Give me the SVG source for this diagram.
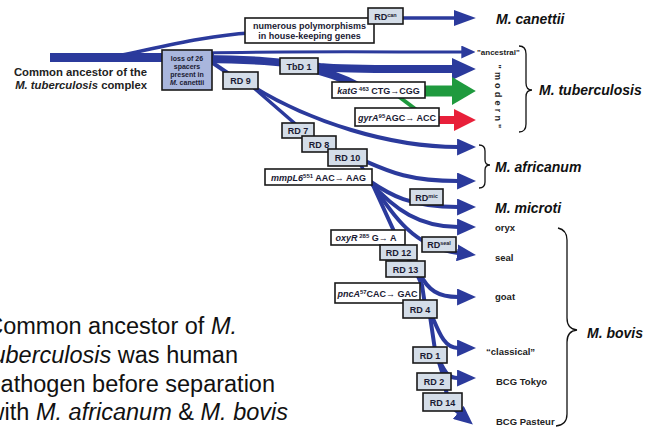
<svg xmlns="http://www.w3.org/2000/svg" width="655" height="427" viewBox="0 0 655 427">
<style>
.c{fill:none;stroke:#2b3a9c;stroke-linejoin:round}
.box{fill:#d4dde8;stroke:#1a1a1a;stroke-width:1.6}
.lbox{fill:#a9b6dd;stroke:#1a1a1a;stroke-width:1.6}
.wbox{fill:#fff;stroke:#1a1a1a;stroke-width:1.6}
.bt{font-family:"Liberation Sans",Arial,"DejaVu Sans",sans-serif;font-weight:bold;font-size:9px;fill:#1a1a33;text-anchor:middle}
.sp{font-family:"Liberation Sans",Arial,sans-serif;font-weight:bold;font-style:italic;font-size:14px;fill:#111}
.lb{font-family:"Liberation Sans",Arial,sans-serif;font-weight:bold;font-size:9.5px;fill:#222}
.big{font-family:"Liberation Sans",Arial,sans-serif;font-size:23.5px;fill:#111;text-anchor:end}
.brace{fill:none;stroke:#111;stroke-width:1.3}
</style>
<defs>
<marker id="ab" viewBox="0 0 10 10" refX="0.5" refY="5" markerUnits="userSpaceOnUse" markerWidth="19" markerHeight="17" orient="auto" preserveAspectRatio="none"><path d="M0,0 L10,5 L0,10 Z" fill="#2b3a9c"/></marker>
<marker id="abig" viewBox="0 0 10 10" refX="0.5" refY="5" markerUnits="userSpaceOnUse" markerWidth="24" markerHeight="22" orient="auto" preserveAspectRatio="none"><path d="M0,0 L10,5 L0,10 Z" fill="#2b3a9c"/></marker>
<marker id="acan" viewBox="0 0 10 10" refX="0.5" refY="5" markerUnits="userSpaceOnUse" markerWidth="22" markerHeight="16" orient="auto" preserveAspectRatio="none"><path d="M0,0 L10,5 L0,10 Z" fill="#2b3a9c"/></marker>
<marker id="asm" viewBox="0 0 10 10" refX="0.5" refY="5" markerUnits="userSpaceOnUse" markerWidth="14" markerHeight="13" orient="auto" preserveAspectRatio="none"><path d="M0,0 L10,5 L0,10 Z" fill="#2b3a9c"/></marker>
<marker id="agr" viewBox="0 0 10 10" refX="0.5" refY="5" markerUnits="userSpaceOnUse" markerWidth="24" markerHeight="28" orient="auto" preserveAspectRatio="none"><path d="M0,0 L10,5 L0,10 Z" fill="#1f9a3e"/></marker>
<marker id="ared" viewBox="0 0 10 10" refX="0.5" refY="5" markerUnits="userSpaceOnUse" markerWidth="22" markerHeight="22" orient="auto" preserveAspectRatio="none"><path d="M0,0 L10,5 L0,10 Z" fill="#e8203a"/></marker>
</defs>
<rect width="655" height="427" fill="#fff"/>

<g id="connectors">
<path class="c" d="M50,57.5 H214" stroke-width="9"/>
<path class="c" d="M122,55 C170,45 212,35 250,33 L380,18 H455" stroke-width="3.5" marker-end="url(#acan)"/>
<path class="c" d="M205,53 C280,51 380,52 462,52" stroke-width="3" marker-end="url(#asm)"/>
<path class="c" d="M205,59 C250,59 280,62 320,67 C350,70 400,69 453,69" stroke-width="8" marker-end="url(#abig)"/>
<path class="c" d="M298,66 C320,70 340,76 362,88" stroke-width="8"/>
<path d="M424,91 H453" fill="none" stroke="#1f9a3e" stroke-width="11" marker-end="url(#agr)"/>
<path d="M398,96 L418,111" fill="none" stroke="#1f9a3e" stroke-width="4"/>
<path d="M438,120 H455" fill="none" stroke="#e8203a" stroke-width="8" marker-end="url(#ared)"/>
<path class="c" d="M207,59 L232,76" stroke-width="4"/>
<path class="c" d="M252,86 C310,122 390,147 458,147" stroke-width="4" marker-end="url(#ab)"/>
<path class="c" d="M254,88 L300,128 L330,148 L358,160 L368,178" stroke-width="3.5"/>
<path class="c" d="M365,161 C390,172 410,181 458,181" stroke-width="4" marker-end="url(#ab)"/>
<path class="c" d="M368,180 C390,195 410,207 458,207" stroke-width="4" marker-end="url(#ab)"/>
<path class="c" d="M370,182 C395,210 420,227 458,227" stroke-width="4" marker-end="url(#ab)"/>
<path class="c" d="M372,183 C392,215 415,248 458,253" stroke-width="4" marker-end="url(#ab)"/>
<path class="c" d="M372,183 L398,240 L415,270 L422,285 L425,305" stroke-width="4"/>
<path class="c" d="M420,274 C428,290 438,297 458,297" stroke-width="4" marker-end="url(#ab)"/>
<path class="c" d="M432,316 C440,335 445,348 458,348" stroke-width="4" marker-end="url(#ab)"/>
<path class="c" d="M430,316 L435,350 L442,372 L447,395 L452,408" stroke-width="4"/>
<path class="c" d="M440,362 C445,372 448,378 458,378" stroke-width="4" marker-end="url(#ab)"/>
<path class="c" d="M447,403 L459,413" stroke-width="4" marker-end="url(#ab)"/>
</g>

<g id="ancestor">
<text class="bt" style="font-size:11.3px;text-anchor:end;fill:#222" x="147" y="75.5">Common ancestor of the</text>
<text class="bt" style="font-size:11.3px;text-anchor:end;fill:#222" x="147" y="88.5"><tspan font-style="italic">M. tuberculosis</tspan> complex</text>
</g>

<g id="polymorphisms">
<rect class="wbox" x="245" y="18" width="129" height="25"/>
<text class="bt" x="309.5" y="28.5">numerous polymorphisms</text>
<text class="bt" x="309.5" y="39">in house-keeping genes</text>
</g>
<g id="rdcan">
<rect class="box" x="368" y="8" width="35" height="16"/>
<text class="bt" x="385.5" y="19.5">RD<tspan font-size="5.5" dy="-3">can</tspan></text>
</g>
<g id="loss">
<rect class="lbox" x="162" y="50" width="50" height="40"/>
<text class="bt" style="font-size:7px" x="187" y="60.5">loss of 26</text>
<text class="bt" style="font-size:7px" x="187" y="68.5">spacers</text>
<text class="bt" style="font-size:7px" x="187" y="76.5">present in</text>
<text class="bt" style="font-size:7px" x="187" y="84.5"><tspan font-style="italic">M.</tspan> canettii</text>
</g>
<g id="tbd1">
<rect class="box" x="280" y="58" width="38" height="16"/>
<text class="bt" x="299" y="69.5">TbD 1</text>
</g>
<g id="rd9">
<rect class="box" x="223" y="72" width="35" height="17"/>
<text class="bt" x="240.5" y="84">RD 9</text>
</g>
<g id="katg">
<rect class="wbox" x="332" y="82" width="93" height="16"/>
<text class="bt" x="378.5" y="93.5"><tspan font-style="italic">katG</tspan><tspan font-size="6" dy="-3"> 463</tspan><tspan dy="3"> CTG→CGG</tspan></text>
</g>
<g id="gyra">
<rect class="wbox" x="355" y="108" width="84" height="18"/>
<text class="bt" x="397" y="120.5"><tspan font-style="italic">gyrA</tspan><tspan font-size="6" dy="-3">95</tspan><tspan dy="3">AGC→ ACC</tspan></text>
</g>
<g id="rd7">
<rect class="box" x="282" y="123" width="32" height="15"/>
<text class="bt" x="298" y="134">RD 7</text>
</g>
<g id="rd8">
<rect class="box" x="302" y="136" width="34" height="16"/>
<text class="bt" x="319" y="147.5">RD 8</text>
</g>
<g id="rd10">
<rect class="box" x="328" y="149" width="39" height="17"/>
<text class="bt" x="347.5" y="161">RD 10</text>
</g>
<g id="mmpl6">
<rect class="wbox" x="265" y="169" width="107" height="16"/>
<text class="bt" x="318.5" y="180.5"><tspan font-style="italic">mmpL6</tspan><tspan font-size="6" dy="-3">551</tspan><tspan dy="3"> AAC→ AAG</tspan></text>
</g>
<g id="rdmic">
<rect class="box" x="410" y="189" width="33" height="16"/>
<text class="bt" x="426.5" y="200.5">RD<tspan font-size="5.5" dy="-3">mic</tspan></text>
</g>
<g id="oxyr">
<rect class="wbox" x="331" y="230" width="74" height="15"/>
<text class="bt" x="366" y="241"><tspan font-style="italic">oxyR</tspan><tspan font-size="6" dy="-3"> 285</tspan><tspan dy="3"> G→ A</tspan></text>
</g>
<g id="rdseal">
<rect class="box" x="422" y="237" width="34" height="15"/>
<text class="bt" x="439" y="248">RD<tspan font-size="5.5" dy="-3">seal</tspan></text>
</g>
<g id="rd12">
<rect class="box" x="380" y="245" width="37" height="15"/>
<text class="bt" x="398.5" y="256">RD 12</text>
</g>
<g id="rd13">
<rect class="box" x="386" y="261" width="39" height="16"/>
<text class="bt" x="405.5" y="272.5">RD 13</text>
</g>
<g id="pnca">
<rect class="wbox" x="335" y="283" width="85" height="20"/>
<text class="bt" x="377.5" y="296.5"><tspan font-style="italic">pncA</tspan><tspan font-size="6" dy="-3">57</tspan><tspan dy="3">CAC→ GAC</tspan></text>
</g>
<g id="rd4">
<rect class="box" x="403" y="300" width="34" height="18"/>
<text class="bt" x="420" y="312.5">RD 4</text>
</g>
<g id="rd1">
<rect class="box" x="413" y="347" width="34" height="16"/>
<text class="bt" x="430" y="358.5">RD 1</text>
</g>
<g id="rd2">
<rect class="box" x="417" y="373" width="34" height="17"/>
<text class="bt" x="434" y="385">RD 2</text>
</g>
<g id="rd14">
<rect class="box" x="423" y="393" width="39" height="18"/>
<text class="bt" x="442.5" y="405.5">RD 14</text>
</g>

<g id="canettii"><text class="sp" x="496" y="23.5">M. canettii</text></g>
<g id="ancestral"><text class="lb" style="font-size:8px" x="477" y="55">"ancestral"</text></g>
<g id="modern"><text class="lb" style="font-size:9px;letter-spacing:3.2px;text-anchor:middle" transform="translate(495,98) rotate(90)">"modern"</text></g>
<g id="tuberculosis">
<path class="brace" d="M519,46 Q526,46 526,54 L526,83 Q526,90 532,90 Q526,90 526,97 L526,124 Q526,132 519,132"/>
<text class="sp" x="539" y="95">M. tuberculosis</text>
</g>
<g id="africanum">
<path class="brace" d="M479,145 Q485,145 485,151 L485,160 Q485,165 490,165 Q485,165 485,170 L485,182 Q485,188 479,188"/>
<text class="sp" x="495" y="171.5">M. africanum</text>
</g>
<g id="microti"><text class="sp" x="495" y="213">M. microti</text></g>
<g id="oryx"><text class="lb" x="495" y="231">oryx</text></g>
<g id="seal"><text class="lb" x="495" y="261">seal</text></g>
<g id="goat"><text class="lb" x="495" y="300">goat</text></g>
<g id="classical"><text class="lb" x="486" y="355">“classical”</text></g>
<g id="bcgtokyo"><text class="lb" x="496" y="385">BCG Tokyo</text></g>
<g id="bcgpasteur"><text class="lb" x="496" y="425">BCG Pasteur</text></g>
<g id="bovis">
<path class="brace" d="M558,228 Q567,230 567,240 L567,318 Q567,329 577,330 Q567,331 567,342 L567,414 Q567,425 556,426"/>
<text class="sp" x="587" y="338">M. bovis</text>
</g>

<g id="note">
<text class="big" x="237" y="334">Common ancestor of <tspan font-style="italic">M.</tspan></text>
<text class="big" x="238" y="363"><tspan font-style="italic">tuberculosis</tspan> was human</text>
<text class="big" x="275" y="392">pathogen before separation</text>
<text class="big" x="288" y="420">with <tspan font-style="italic">M. africanum</tspan> &amp; <tspan font-style="italic">M. bovis</tspan></text>
</g>
</svg>
